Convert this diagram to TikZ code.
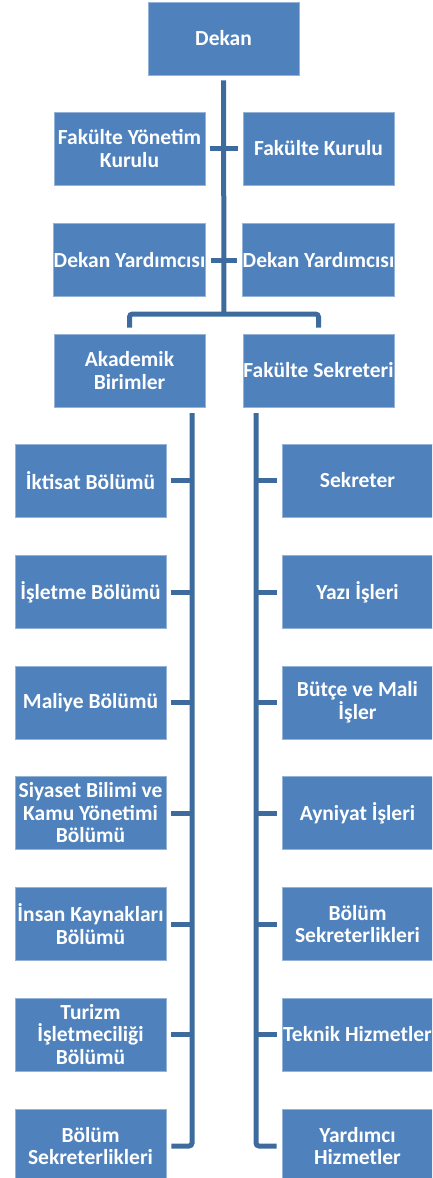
\documentclass[tikz,border=0pt]{standalone}
\usepackage{fontspec}
\setmainfont{Carlito}
\definecolor{boxblue}{HTML}{4F81BD}
\definecolor{lineblue}{HTML}{3E6B9D}
\begin{document}
\begin{tikzpicture}[x=1pt,y=-1pt,
  box/.style={rectangle, fill=boxblue, draw=boxblue!60!white, line width=0.8pt,
    minimum width=151pt, minimum height=73pt, inner sep=0pt, align=center,
    text=white, font=\bfseries\fontsize{21.5}{22.5}\selectfont},
  conn/.style={draw=lineblue, line width=5pt},
  stub/.style={draw=lineblue, line width=5pt}]
\useasboundingbox (0,0) rectangle (432,1178);
\clip (0,0) rectangle (432,1178);
% top
\node[box] (dekan) at (223.5,38.5) {Dekan};
\node[box] (fyk) at (129.5,148.5) {Fakülte Yönetim\\Kurulu};
\node[box] (fk) at (318.5,148.5) {Fakülte Kurulu};
\node[box] (dy1) at (129.5,260) {Dekan Yardımcısı};
\node[box] (dy2) at (318.5,260) {Dekan Yardımcısı};
\node[box] (ab) at (129.5,370.5) {Akademik\\Birimler};
\node[box] (fs) at (318.5,370.5) {Fakülte Sekreteri};
% left column
\node[box] (l1) at (90.5,480.5) {İktisat Bölümü};
\node[box] (l2) at (90.5,592) {İşletme Bölümü};
\node[box] (l3) at (90.5,702.5) {Maliye Bölümü};
\node[box] (l4) at (90.5,813) {Siyaset Bilimi ve\\Kamu Yönetimi\\Bölümü};
\node[box] (l5) at (90.5,924) {İnsan Kaynakları\\Bölümü};
\node[box] (l6) at (90.5,1034.5) {Turizm\\İşletmeciliği\\Bölümü};
\node[box] (l7) at (90.5,1146) {Bölüm\\Sekreterlikleri};
% right column
\node[box] (r1) at (357.5,480.5) {Sekreter};
\node[box] (r2) at (357.5,592) {Yazı İşleri};
\node[box] (r3) at (357.5,702.5) {Bütçe ve Mali\\İşler};
\node[box] (r4) at (357.5,813) {Ayniyat İşleri};
\node[box] (r5) at (357.5,924) {Bölüm\\Sekreterlikleri};
\node[box] (r6) at (357.5,1034.5) {Teknik Hizmetler};
\node[box] (r7) at (357.5,1146) {Yardımcı\\Hizmetler};
% connectors
\coordinate (j) at (224,314);
\coordinate (lt) at (192,413);
\coordinate (rt) at (256,413);
\draw[conn] ([yshift=-5pt]dekan.south) -- (j);
\draw[stub] ([xshift=5pt]fyk.east) -- ([xshift=-5pt]fk.west);
\draw[stub] ([xshift=5pt]dy1.east) -- ([xshift=-5pt]dy2.west);
\draw[conn, rounded corners=3pt] ([yshift=6pt]ab.north) |- (j) -| ([yshift=6pt]fs.north);
\draw[conn, rounded corners=3pt] (lt) |- ([xshift=5pt]l7.east);
\draw[conn, rounded corners=3pt] (rt) |- ([xshift=-5pt]r7.west);
\foreach \n in {l1,l2,l3,l4,l5,l6}
  \draw[stub] ([xshift=5pt]\n.east) -- (\n.east -| lt);
\foreach \n in {r1,r2,r3,r4,r5,r6}
  \draw[stub] ([xshift=-5pt]\n.west) -- (\n.west -| rt);
\end{tikzpicture}
\end{document}
